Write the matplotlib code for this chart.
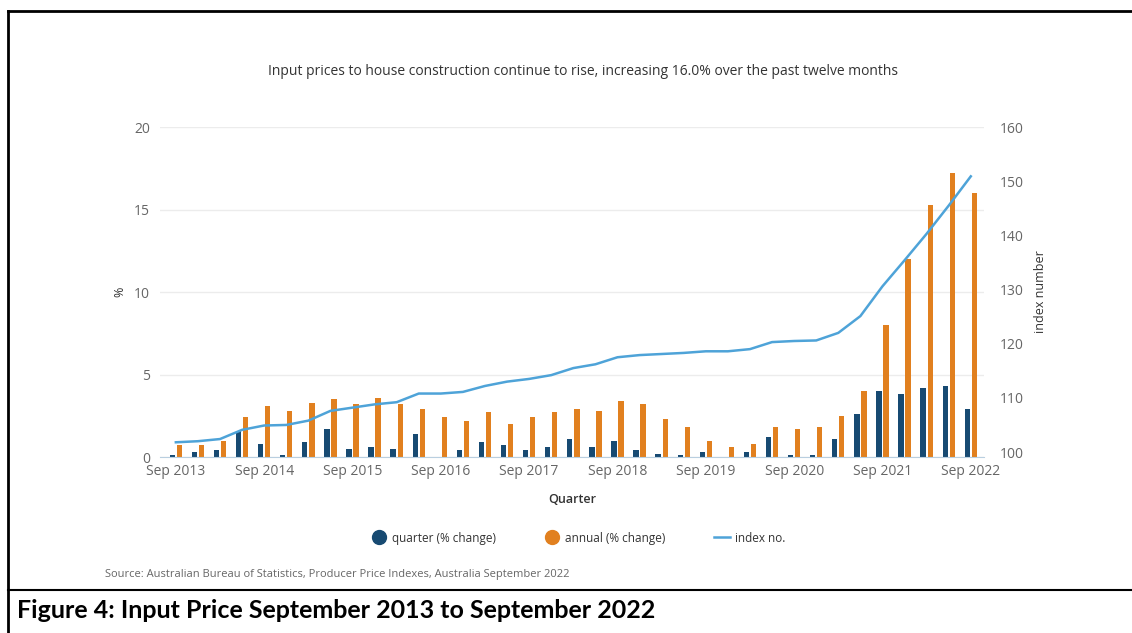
import matplotlib.pyplot as plt
import numpy as np
from matplotlib.lines import Line2D

# quarters Sep 2013 .. Sep 2022
quarters = ['Sep 2013', 'Dec 2013', 'Mar 2014', 'Jun 2014', 'Sep 2014', 'Dec 2014', 'Mar 2015', 'Jun 2015',
            'Sep 2015', 'Dec 2015', 'Mar 2016', 'Jun 2016', 'Sep 2016', 'Dec 2016', 'Mar 2017', 'Jun 2017',
            'Sep 2017', 'Dec 2017', 'Mar 2018', 'Jun 2018', 'Sep 2018', 'Dec 2018', 'Mar 2019', 'Jun 2019',
            'Sep 2019', 'Dec 2019', 'Mar 2020', 'Jun 2020', 'Sep 2020', 'Dec 2020', 'Mar 2021', 'Jun 2021',
            'Sep 2021', 'Dec 2021', 'Mar 2022', 'Jun 2022', 'Sep 2022']

quarterChange = [0.1, 0.3, 0.4, 1.6, 0.8, 0.1, 0.9, 1.7, 0.5, 0.6, 0.5, 1.4, 0.0, 0.4, 0.9, 0.7,
                 0.4, 0.6, 1.1, 0.6, 1.0, 0.4, 0.2, 0.1, 0.3, 0.0, 0.3, 1.2, 0.1, 0.1, 1.1, 2.6,
                 4.0, 3.8, 4.2, 4.3, 2.9]

annualChange = [0.7, 0.7, 1.0, 2.4, 3.1, 2.8, 3.3, 3.5, 3.2, 3.6, 3.2, 2.9, 2.4, 2.2, 2.7, 2.0,
                2.4, 2.7, 2.9, 2.8, 3.4, 3.2, 2.3, 1.8, 1.0, 0.6, 0.8, 1.8, 1.7, 1.8, 2.5, 4.0,
                8.0, 12.0, 15.3, 17.2, 16.0]

indexNo = [101.8, 102.0, 102.4, 104.1, 104.9, 105.0, 105.8, 107.6, 108.2, 108.8, 109.2, 110.8,
           110.8, 111.1, 112.2, 113.0, 113.5, 114.2, 115.5, 116.2, 117.5, 117.9, 118.1, 118.3,
           118.6, 118.6, 119.0, 120.3, 120.5, 120.6, 122.0, 125.1, 130.6, 135.4, 140.3, 145.5,
           150.9]

tickLabels = quarters[::4]

# colours
darkBlue = '#174a72'
orange = '#e1801f'
lineBlue = '#4ea3d8'
gray = '#666666'

plt.rcParams['font.family'] = ['Open Sans', 'DejaVu Sans']

fig = plt.figure(figsize=(11.32, 6.33), dpi=100)
ax = fig.add_axes([0.1413, 0.278, 0.728, 0.5213])
ax2 = ax.twinx()

x = np.arange(len(quarters))
ax.bar(x - 0.16, quarterChange, width=0.24, color=darkBlue, zorder=3)
ax.bar(x + 0.16, annualChange, width=0.24, color=orange, zorder=3)
ax2.plot(x, indexNo, color=lineBlue, lw=1.8, zorder=4)

ax.set_xlim(-0.72, 36.6)
ax.set_ylim(0, 20)
ax.set_yticks([0, 5, 10, 15, 20])
ax2.set_ylim(99.08, 160)
ax2.set_yticks([100, 110, 120, 130, 140, 150, 160])
ax.set_xticks(x[::4])
ax.set_xticklabels(tickLabels)

ax.grid(axis='y', color='#ececec', lw=1, zorder=0)
for a in (ax, ax2):
    for s in a.spines.values():
        s.set_visible(False)
    a.tick_params(length=0, labelsize=10, labelcolor=gray)
ax.spines['bottom'].set_visible(True)
ax.spines['bottom'].set_color('#b9cfe0')
ax.spines['bottom'].set_zorder(5)
ax.tick_params(axis='y', pad=7)
ax.tick_params(axis='x', pad=5)
ax2.tick_params(axis='y', pad=11)

ax.set_ylabel('%', fontsize=9, color='#333333', labelpad=6)
ax2.set_ylabel('index number', fontsize=9, color='#333333', labelpad=8)
ax.set_xlabel('Quarter', fontsize=9, color='#333333', fontweight='semibold', labelpad=10)

fig.text(0.515, 0.887, 'Input prices to house construction continue to rise, increasing 16.0% over the past twelve months',
         ha='center', va='center', fontsize=10, color='#333333')

handles = [Line2D([], [], ls='none', marker='o', ms=10, color=darkBlue),
           Line2D([], [], ls='none', marker='o', ms=10, color=orange),
           Line2D([], [], color=lineBlue, lw=1.8)]
fig.legend(handles, ['quarter (% change)', 'annual (% change)', 'index no.'],
           loc='center', bbox_to_anchor=(0.511, 0.15), ncol=3, frameon=False,
           fontsize=8.5, columnspacing=4.1, handlelength=1.3, handletextpad=0.45,
           labelcolor='#333333')

fig.text(0.093, 0.092, 'Source: Australian Bureau of Statistics, Producer Price Indexes, Australia September 2022',
         ha='left', va='center', fontsize=8, color=gray)

fig.text(0.015, 0.036, 'Figure 4: Input Price September 2013 to September 2022',
         ha='left', va='center', fontsize=18, fontweight='bold', family=['Lato', 'DejaVu Sans'])

# frame lines around the figure
fig.add_artist(Line2D([0.007, 1.0], [0.983, 0.983], color='black', lw=2, transform=fig.transFigure))
fig.add_artist(Line2D([0.0075, 0.0075], [0.0, 0.983], color='black', lw=2, transform=fig.transFigure))
fig.add_artist(Line2D([0.007, 1.0], [0.068, 0.068], color='black', lw=1.5, transform=fig.transFigure))

fig.savefig('out.png', dpi=100)
